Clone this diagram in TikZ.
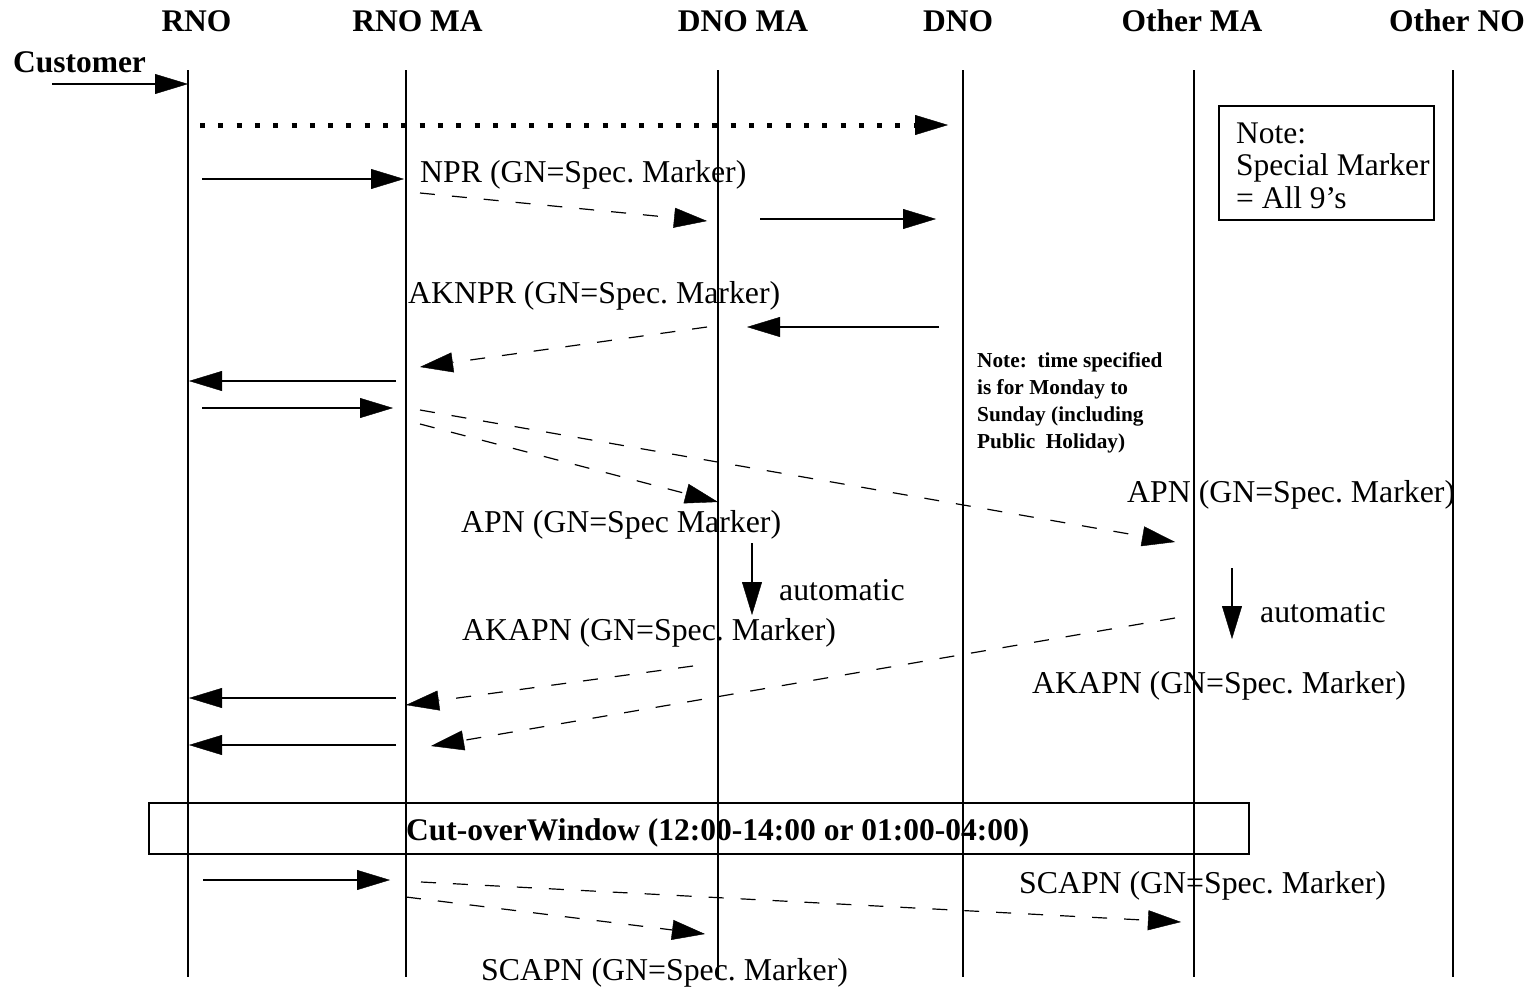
\documentclass[tikz,border=0pt]{standalone}
\usepackage{fontspec}
\setmainfont{Liberation Serif}
\usetikzlibrary{arrows.meta}
\frenchspacing
\begin{document}
\begin{tikzpicture}[x=1pt,y=-1pt,
  tip/.tip={Triangle[length=33pt,width=20pt,line width=0.4pt]},
  life/.style={line width=1.8pt},
  msg/.style={line width=2.8pt,-tip},
  dmsg/.style={line width=1.2pt,dash pattern=on 15pt off 17pt,-tip},
  dotmsg/.style={line width=5pt,dash pattern=on 5pt off 13.3pt,-tip},
  hdr/.style={font=\fontsize{31.5}{33}\selectfont\bfseries,inner sep=0,anchor=base},
  lbl/.style={font=\fontsize{31.8}{33}\selectfont,inner sep=0,anchor=base west},
  small/.style={font=\fontsize{21.3}{27}\selectfont\bfseries,inner sep=0,align=left,anchor=north west},
]
\useasboundingbox (0,0) rectangle (1530,990);
\fill[white] (0,0) rectangle (1530,990);

% headers
\node[hdr] (hRNO) at (196.5,32) {RNO};
\node[hdr] (hRNOMA) at (417.5,32) {RNO MA};
\node[hdr] (hDNOMA) at (743,32) {DNO MA};
\node[hdr] (hDNO) at (958,32) {DNO};
\node[hdr] (hOMA) at (1192,32) {Other MA};
\node[hdr] (hONO) at (1457,32) {Other NO};
\node[hdr] (hCust) at (79.5,72) {Customer};

% lifelines
\foreach \n/\x in {a/188,b/406,c/718,d/963,e/1194,f/1453}{
  \coordinate (\n top) at (\x,70);
  \coordinate (\n bot) at (\x,977);
  \draw[life] (\n top) -- (\n bot);
}

% note box
\node[draw,line width=1.6pt,minimum width=215pt,minimum height=114pt,anchor=north west,inner sep=0] (notebox) at (1218,105) {};
\node[font=\fontsize{31.5}{32.5}\selectfont,inner sep=0,align=left,anchor=north west] (notetext) at (1236,122.5) {Note:\\Special Marker\\= All 9’s};

% small note
\node[small] (timenote) at (977,352.5) {Note:\ \ time specified\\is for Monday to\\Sunday (including\\Public\ \ Holiday)};

% coordinates of message ends
\coordinate (c1s) at (52,84);   \coordinate (c1e) at (188,84);
\coordinate (c2s) at (200,125); \coordinate (c2e) at (948,125);
\coordinate (c3s) at (202,179); \coordinate (c3e) at (404,179);
\coordinate (c4s) at (420,193); \coordinate (c4e) at (707,221);
\coordinate (c5s) at (760,219); \coordinate (c5e) at (936,219);
\coordinate (c6s) at (939,327); \coordinate (c6e) at (747,327);
\coordinate (c7s) at (707,327); \coordinate (c7e) at (420,367);
\coordinate (c8s) at (396,381); \coordinate (c8e) at (189,381);
\coordinate (c9s) at (202,408); \coordinate (c9e) at (393,408);
\coordinate (c10s) at (420,410); \coordinate (c10e) at (1175,542);
\coordinate (c11s) at (420,424); \coordinate (c11e) at (718,502);
\coordinate (c12s) at (752,543); \coordinate (c12e) at (752,615);
\coordinate (c13s) at (1232,568); \coordinate (c13e) at (1232,639);
\coordinate (c14s) at (693,666); \coordinate (c14e) at (406,705);
\coordinate (c15s) at (396,698); \coordinate (c15e) at (189,698);
\coordinate (c16s) at (1175,618); \coordinate (c16e) at (431,746);
\coordinate (c17s) at (396,745); \coordinate (c17e) at (189,745);
\coordinate (c19s) at (203,880); \coordinate (c19e) at (390,880);
\coordinate (c20s) at (421,882); \coordinate (c20e) at (1181,922);
\coordinate (c21s) at (406,897); \coordinate (c21e) at (705,934);

\draw[msg] (c1s) -- (c1e);
\draw[dotmsg] (c2s) -- (c2e);
\draw[msg] (c3s) -- (c3e);
\draw[dmsg] (c4s) -- (c4e);
\draw[msg] (c5s) -- (c5e);
\draw[msg] (c6s) -- (c6e);
\draw[dmsg] (c7s) -- (c7e);
\draw[msg] (c8s) -- (c8e);
\draw[msg] (c9s) -- (c9e);
\draw[dmsg] (c10s) -- (c10e);
\draw[dmsg] (c11s) -- (c11e);
\draw[msg] (c12s) -- (c12e);
\draw[msg] (c13s) -- (c13e);
\draw[dmsg] (c14s) -- (c14e);
\draw[msg] (c15s) -- (c15e);
\draw[dmsg] (c16s) -- (c16e);
\draw[msg] (c17s) -- (c17e);
\draw[msg] (c19s) -- (c19e);
\draw[dmsg] (c20s) -- (c20e);
\draw[dmsg] (c21s) -- (c21e);

% labels
\node[lbl] (lNPR) at (420,182) {NPR (GN=Spec. Marker)};
\node[lbl] (lAKNPR) at (408,303) {AKNPR (GN=Spec. Marker)};
\node[lbl] (lAPN1) at (461,532) {APN (GN=Spec Marker)};
\node[lbl] (lAPN2) at (1127,502) {APN (GN=Spec. Marker)};
\node[lbl] (lauto1) at (779,600) {automatic};
\node[lbl] (lAKAPN1) at (462,640) {AKAPN (GN=Spec. Marker)};
\node[lbl] (lauto2) at (1260,622) {automatic};
\node[lbl] (lAKAPN2) at (1032,693) {AKAPN (GN=Spec. Marker)};
\node[lbl] (lSCAPN1) at (1019,893) {SCAPN (GN=Spec. Marker)};
\node[lbl] (lSCAPN2) at (481,980) {SCAPN (GN=Spec. Marker)};

% cut-over window
\node[draw,line width=1.8pt,minimum width=1100pt,minimum height=51pt,anchor=north west,inner sep=0] (cutbox) at (148,802) {};
\node[lbl,font=\fontsize{31.5}{33}\selectfont\bfseries] (cuttext) at (406,840) {Cut-overWindow (12:00-14:00 or 01:00-04:00)};
\end{tikzpicture}
\end{document}
